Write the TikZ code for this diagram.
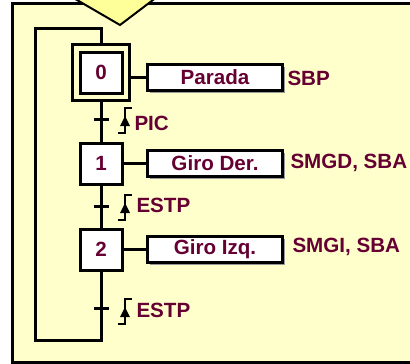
\documentclass[tikz,border=0pt]{standalone}
\usepackage{fontspec}
\setmainfont{Liberation Sans}
\usetikzlibrary{shadows}
\definecolor{txt}{HTML}{660033}
\definecolor{bg}{HTML}{FFFFCC}
\definecolor{tri}{HTML}{FFFF99}
\begin{document}
\begin{tikzpicture}[x=1pt,y=-1pt,line width=3pt,
  lbl/.style={font=\fontsize{20.6}{24}\selectfont\bfseries, text=txt, inner sep=0pt},
  stepbox/.style={draw, fill=white, minimum width=42pt, minimum height=41pt, lbl},
  actbox/.style={draw, fill=white, minimum width=135pt, minimum height=26pt, lbl,
    drop shadow={shadow xshift=2.5pt, shadow yshift=-2.5pt, fill=black!40, opacity=1}},
  redge/.pic={
    \draw[line width=2pt] (-7,13) -- (0,13) -- (0,-12) -- (7,-12);
    \fill (0,-4) -- (5,6) -- (-5,6) -- cycle;
  }]
\useasboundingbox (0,0) rectangle (410,364);
\clip (0,0) rectangle (410,364);
% frame
\filldraw[fill=bg, draw=black] (12,3) rectangle (430,362);
% top arrow tip
\filldraw[fill=tri, draw=black, line width=2pt] (68.4,-5) -- (120,25) -- (159.6,-5);
% steps
\node[draw, minimum width=57pt, minimum height=56pt, inner sep=0pt] (s0o) at (101,72.5) {};
\node[stepbox] (s0) at (101,72.5) {0};
\node[stepbox] (s1) at (101,163.5) {1};
\node[stepbox] (s2) at (101,249.5) {2};
% actions
\node[actbox] (a0) at (215,77) {Parada};
\node[actbox] (a1) at (215,163) {Giro Der.};
\node[actbox] (a2) at (215,249) {Giro Izq.};
\draw (s0o.east |- a0.west) -- (a0.west);
\draw (s1.east |- a1.west) -- (a1.west);
\draw (s2.east |- a2.west) -- (a2.west);
\node[lbl, anchor=west] (o0) at (286,78) {SBP};
\node[lbl, anchor=west] (o1) at (289,163) {SMGD, SBA};
\node[lbl, anchor=west] (o2) at (291,247) {SMGI, SBA};
% links
\coordinate (lb) at (35,340);
\coordinate (lt) at (35,28);
\draw (s0o.south) -- (s1.north);
\draw (s1.south) -- (s2.north);
\draw (s2.south) |- (lb) -- (lt) -| (s0o.north);
% transitions
\coordinate (t1) at (101,119);
\coordinate (t2) at (101,206);
\coordinate (t3) at (101,308);
\foreach \t in {t1,t2,t3} {
  \draw ([xshift=-7pt]\t) -- ([xshift=8pt]\t);
}
\pic at (125,120) {redge};
\pic at (125,207) {redge};
\pic at (125,311) {redge};
\node[lbl, anchor=west] (c1) at (133,123) {PIC};
\node[lbl, anchor=west] (c2) at (135,205) {ESTP};
\node[lbl, anchor=west] (c3) at (135,310) {ESTP};
\end{tikzpicture}
\end{document}
